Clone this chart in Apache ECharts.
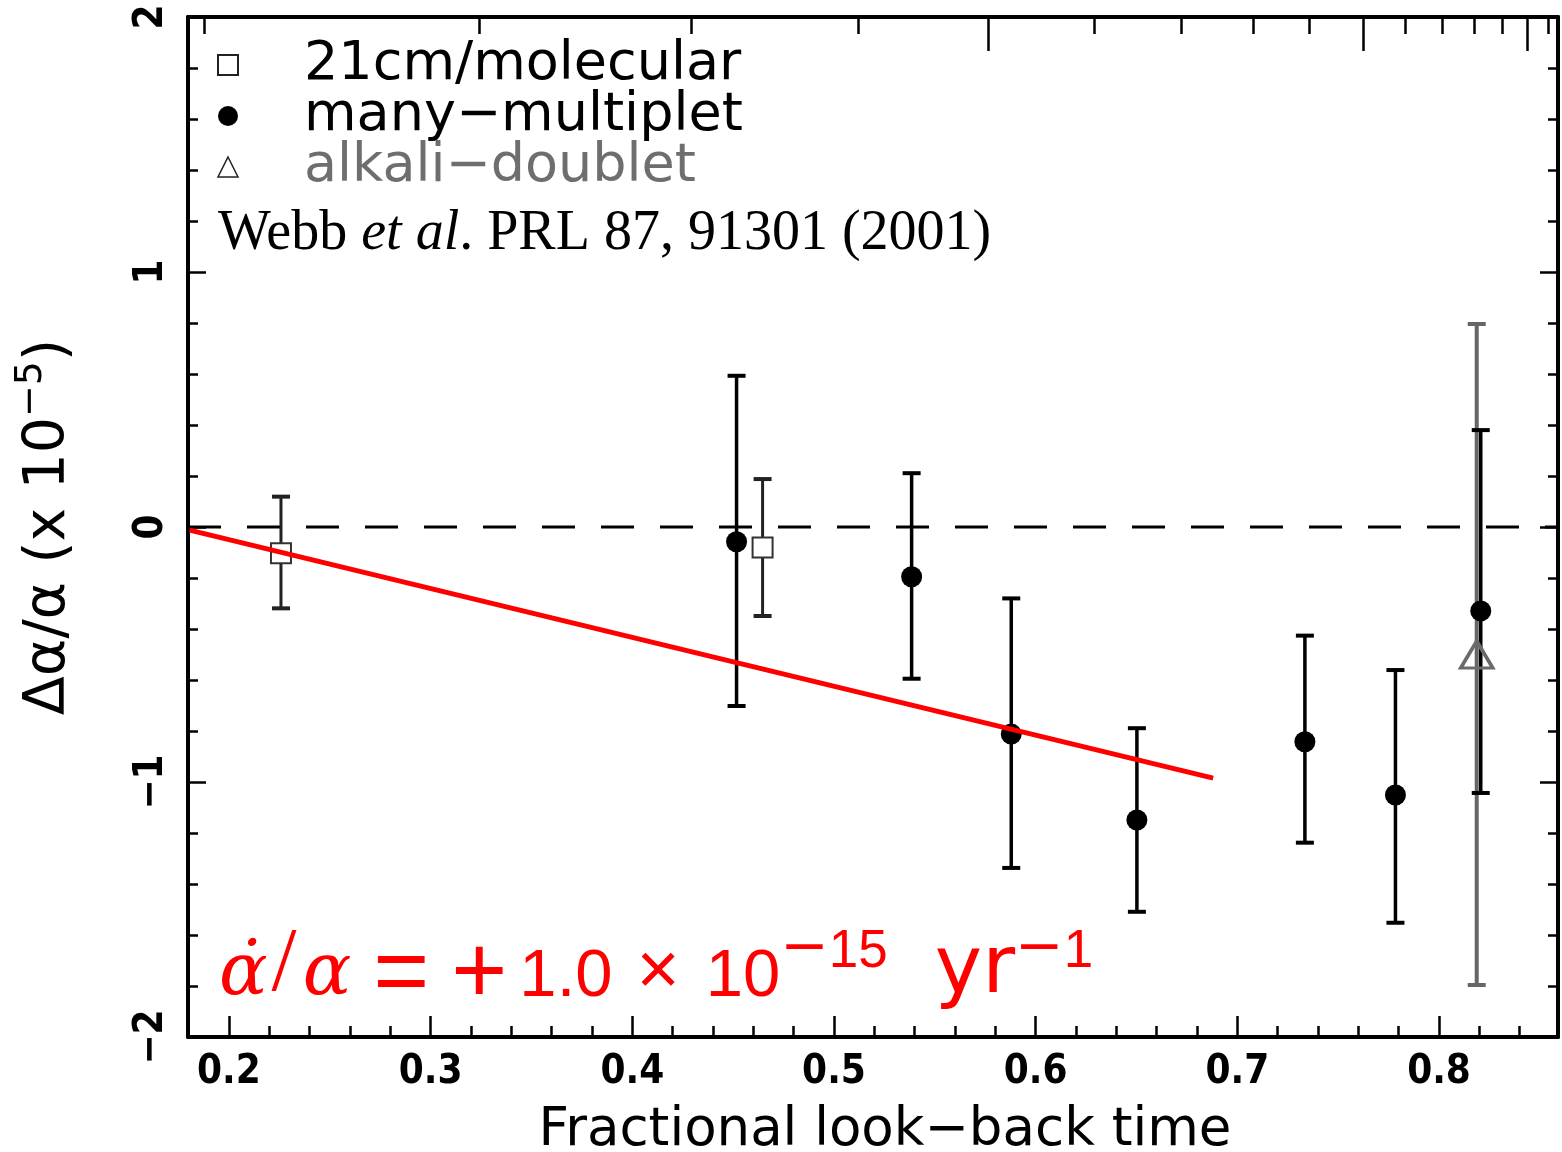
<!DOCTYPE html>
<html>
<head>
<meta charset="utf-8">
<script src="https://cdn.jsdelivr.net/npm/echarts@6/dist/echarts.min.js"></script>
<style>
html,body{margin:0;padding:0;background:#fff;width:100%;height:100%;overflow:hidden;}
#c{width:1562px;height:1152px;position:absolute;left:0;top:0;}
</style>
</head>
<body>
<div id="c"></div>
<script>
// ---- data ----
const mmX  = [0.4517, 0.5385, 0.5879, 0.6502, 0.7335, 0.7784, 0.8207];
const mmY  = [-0.058, -0.195, -0.812, -1.149, -0.842, -1.051, -0.329];
const mmLo = [-0.702, -0.595, -1.337, -1.509, -1.238, -1.552, -1.043];
const mmHi = [0.593, 0.211, -0.280, -0.789, -0.426, -0.561, 0.380];

const hiX  = [0.2258, 0.4646];
const hiY  = [-0.103, -0.080];
const hiLo = [-0.319, -0.349];
const hiHi = [0.119, 0.188];

const adX  = [0.8187];
const adY  = [-0.50];
const adLo = [-1.796];
const adHi = [0.796];

const fitX = [0.1805, 0.688];
const fitY = [-0.012, -0.985];

const xMajorTicks = [0.2, 0.3, 0.4, 0.5, 0.6, 0.7, 0.8];
const xMinorTicks = [0.22, 0.24, 0.26, 0.28, 0.32, 0.34, 0.36, 0.38, 0.42, 0.44, 0.46, 0.48,
                     0.52, 0.54, 0.56, 0.58, 0.62, 0.64, 0.66, 0.68, 0.72, 0.74, 0.76, 0.78, 0.82, 0.84];
// top axis (redshift) tick positions in look-back-time units
const topLongTicks  = [0.5763, 0.7622, 0.8440];
const topShortTicks = [0.1876, 0.3239, 0.4291, 0.5118, 0.6293, 0.6720, 0.7077, 0.7359,
                       0.7835, 0.8018, 0.8177, 0.8316, 0.8544];
const yTickLabels = {'2':'2', '1':'1', '0':'0', '-1':'\u22121', '-2':'\u22122'};

const XMIN = 0.1797, XMAX = 0.859;

const chart = echarts.init(document.getElementById('c'), null, {renderer: 'canvas', width: 1562, height: 1152});

function errRender(color, width, cap, capW) {
  return function (params, api) {
    const x = api.value(0), lo = api.value(1), hi = api.value(2);
    const p1 = api.coord([x, hi]), p2 = api.coord([x, lo]);
    const st = {stroke: color, lineWidth: width};
    const sc = {stroke: color, lineWidth: capW};
    return {type: 'group', children: [
      {type: 'line', shape: {x1: p1[0], y1: p1[1], x2: p2[0], y2: p2[1]}, style: st},
      {type: 'line', shape: {x1: p1[0] - cap, y1: p1[1], x2: p1[0] + cap, y2: p1[1]}, style: sc},
      {type: 'line', shape: {x1: p2[0] - cap, y1: p2[1], x2: p2[0] + cap, y2: p2[1]}, style: sc}
    ]};
  };
}

const zip3 = (a, b, c) => a.map((v, i) => [v, b[i], c[i]]);
const zip2 = (a, b) => a.map((v, i) => [v, b[i]]);

const axisBase = {type: 'value', min: XMIN, max: XMAX, splitLine: {show: false}};
const tickFont = {fontFamily: 'DejaVu Sans Condensed', fontWeight: 'bold', fontSize: 40, color: '#000'};
const RED = '#ff0000';

const option = {
  backgroundColor: '#fff',
  animation: false,
  grid: {left: 188, right: 4, top: 17, height: 1020, containLabel: false, outerBoundsMode: 'none'},
  legend: {
    orient: 'vertical', left: 212, top: 33,
    itemWidth: 20, itemHeight: 20, itemGap: -3,
    textStyle: {fontFamily: 'DejaVu Sans', fontSize: 54, lineHeight: 50, color: '#000', padding: [0, 0, 0, 61]},
    data: [
      {name: '21cm/molecular', icon: 'rect', itemStyle: {color: '#fff', borderColor: '#222', borderWidth: 2}},
      {name: 'many\u2212multiplet', icon: 'circle', itemStyle: {color: '#000', borderWidth: 0}},
      {name: 'alkali\u2212doublet', icon: 'triangle', itemStyle: {color: '#fff', borderColor: '#222', borderWidth: 1.5},
       textStyle: {color: '#6e6e6e'}}
    ],
    selectedMode: false
  },
  xAxis: [
    Object.assign({}, axisBase, {
      position: 'bottom',
      name: 'Fractional look\u2212back time', nameLocation: 'middle', nameGap: 68,
      nameTextStyle: {fontFamily: 'DejaVu Sans', fontSize: 53, color: '#000', padding: [0, 0, 0, 24]},
      axisLine: {show: true, onZero: false, lineStyle: {color: '#000', width: 4}},
      axisTick: {show: true, inside: true, length: 21, customValues: xMajorTicks, lineStyle: {color: '#000', width: 2.5}},
      axisLabel: Object.assign({show: true, customValues: xMajorTicks, margin: 16, formatter: v => v.toFixed(1)}, tickFont)
    }),
    Object.assign({}, axisBase, {
      position: 'bottom',
      axisLine: {show: false, onZero: false},
      axisTick: {show: true, inside: true, length: 11, customValues: xMinorTicks, lineStyle: {color: '#000', width: 2.5}},
      axisLabel: {show: false}
    }),
    Object.assign({}, axisBase, {
      position: 'top',
      axisLine: {show: true, onZero: false, lineStyle: {color: '#000', width: 4}},
      axisTick: {show: true, inside: true, length: 17, customValues: topShortTicks, lineStyle: {color: '#000', width: 2.5}},
      axisLabel: {show: false}
    }),
    Object.assign({}, axisBase, {
      position: 'top',
      axisLine: {show: false, onZero: false},
      axisTick: {show: true, inside: true, length: 34, customValues: topLongTicks, lineStyle: {color: '#000', width: 2.5}},
      axisLabel: {show: false}
    })
  ],
  yAxis: [
    {
      type: 'value', position: 'left', min: -2, max: 2, interval: 1, splitLine: {show: false},
      name: '{a|\u0394\u03b1/\u03b1 (x 10}{s|\u22125}{a|)}', nameLocation: 'middle', nameGap: 110, nameRotate: 90,
      nameTextStyle: {
        rich: {
          a: {fontFamily: 'DejaVu Sans', fontSize: 57, color: '#000', lineHeight: 66, verticalAlign: 'bottom'},
          s: {fontFamily: 'DejaVu Sans', fontSize: 38, color: '#000', lineHeight: 66, verticalAlign: 'top'}
        }
      },
      axisLine: {show: true, onZero: false, lineStyle: {color: '#000', width: 4}},
      axisTick: {show: true, inside: true, length: 18, lineStyle: {color: '#000', width: 2.5}},
      minorTick: {show: true, splitNumber: 5, length: 10, lineStyle: {color: '#000', width: 2.5}},
      axisLabel: Object.assign({show: true, rotate: 90, margin: 16, formatter: v => yTickLabels[String(v)]}, tickFont)
    },
    {
      type: 'value', position: 'right', min: -2, max: 2, interval: 1, splitLine: {show: false},
      axisLine: {show: true, onZero: false, lineStyle: {color: '#000', width: 4}},
      axisTick: {show: true, inside: true, length: 18, lineStyle: {color: '#000', width: 2.5}},
      minorTick: {show: true, splitNumber: 5, length: 10, lineStyle: {color: '#000', width: 2.5}},
      axisLabel: {show: false}
    }
  ],
  graphic: [
    {
      type: 'text', left: 218, top: 206, z: 100,
      style: {
        text: '{r|Webb }{i|et al}{r|. PRL 87, 91301 (2001)}',
        rich: {
          r: {fontFamily: 'Liberation Serif', fontSize: 56, fill: '#000'},
          i: {fontFamily: 'Liberation Serif', fontStyle: 'italic', fontSize: 56, fill: '#000'}
        }
      }
    },
    {
      type: 'text', left: 219, top: 921, z: 100,
      style: {
        text: '{g|\u03b1\u0307}{b|/}{g|\u03b1}{eq|=}{pl|+}{n|1.0}{x|\u00d7}{n|10}{m|\u2212}{s|15}{y|yr}{m|\u2212}{s|1}',
        rich: {
          g: {fontFamily: 'DejaVu Serif', fontStyle: 'italic', fontSize: 72, fill: RED, lineHeight: 90, verticalAlign: 'bottom'},
          b: {fontFamily: 'Liberation Serif', fontSize: 90, fill: RED, lineHeight: 90, verticalAlign: 'bottom', padding: [0, 6, 0, 4]},
          eq: {fontFamily: 'Liberation Sans', fontSize: 96, fill: RED, lineHeight: 90, verticalAlign: 'top', padding: [8, 0, 0, 22]},
          pl: {fontFamily: 'Liberation Sans', fontSize: 96, fill: RED, lineHeight: 90, verticalAlign: 'top', padding: [8, 12, 0, 22]},
          n: {fontFamily: 'Liberation Sans', fontSize: 67, fill: RED, lineHeight: 90, verticalAlign: 'bottom'},
          x: {fontFamily: 'Liberation Sans', fontSize: 74, fill: RED, lineHeight: 90, verticalAlign: 'bottom', padding: [0, 26, 0, 24]},
          m: {fontFamily: 'DejaVu Sans', fontSize: 58, fill: RED, lineHeight: 90, verticalAlign: 'top'},
          s: {fontFamily: 'Liberation Sans', fontSize: 53, fill: RED, lineHeight: 90, verticalAlign: 'top', padding: [5, 0, 0, 0]},
          y: {fontFamily: 'DejaVu Sans', fontSize: 80, fill: RED, lineHeight: 90, verticalAlign: 'bottom', padding: [0, 0, 0, 47]}
        }
      }
    }
  ],
  series: [
    {
      type: 'line', name: 'zero', data: [[XMIN, 0], [XMAX, 0]], symbol: 'none', z: 1, silent: true,
      lineStyle: {color: '#000', width: 3, type: [33, 26]}
    },
    {
      type: 'custom', name: 'adErr', renderItem: errRender('#666', 4, 9, 4), z: 2,
      encode: {x: 0, y: [1, 2]}, data: zip3(adX, adLo, adHi)
    },
    {
      type: 'custom', name: 'mmErr', renderItem: errRender('#000', 3.5, 9, 4), z: 3,
      encode: {x: 0, y: [1, 2]}, data: zip3(mmX, mmLo, mmHi)
    },
    {
      type: 'custom', name: 'hiErr', renderItem: errRender('#222', 3, 9, 4), z: 3,
      encode: {x: 0, y: [1, 2]}, data: zip3(hiX, hiLo, hiHi)
    },
    {
      type: 'scatter', name: '21cm/molecular', symbol: 'rect', symbolSize: 20, z: 4,
      itemStyle: {color: '#fff', borderColor: '#333', borderWidth: 2, opacity: 1},
      data: zip2(hiX, hiY)
    },
    {
      type: 'scatter', name: 'many\u2212multiplet', symbol: 'circle', symbolSize: 21, z: 4,
      itemStyle: {color: '#000', opacity: 1},
      data: zip2(mmX, mmY)
    },
    {
      type: 'scatter', name: 'alkali\u2212doublet', symbol: 'triangle', symbolSize: [32, 27], z: 5,
      itemStyle: {color: 'rgba(255,255,255,0)', borderColor: '#6a6a6a', borderWidth: 3.5, opacity: 1},
      data: zip2(adX, adY)
    },
    {
      type: 'line', name: 'fit', data: zip2(fitX, fitY), symbol: 'none', z: 6, silent: true,
      lineStyle: {color: RED, width: 5}
    }
  ]
};
chart.setOption(option);
</script>
</body>
</html>
